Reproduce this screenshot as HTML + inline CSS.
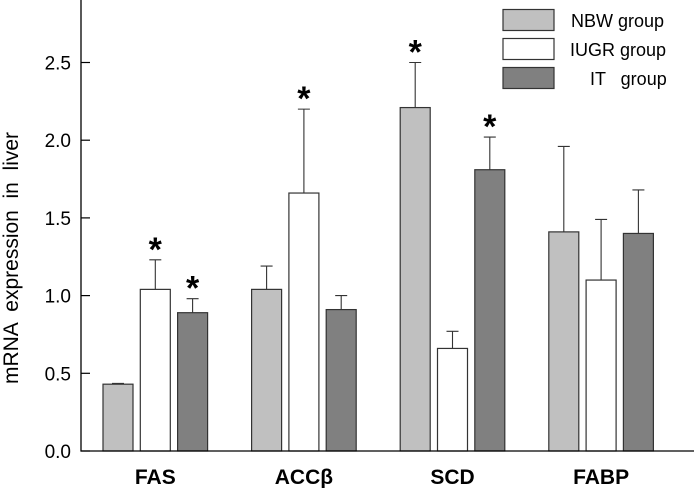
<!DOCTYPE html>
<html><head><meta charset="utf-8"><style>
body{margin:0;background:#fff}
svg{display:block;font-family:"Liberation Sans",Arial,sans-serif}
</style></head><body>
<svg id="chart" width="694" height="488" viewBox="0 0 694 488" xmlns="http://www.w3.org/2000/svg">
<g id="plot"></g>
<g>
 <rect x="503" y="9.5" width="51" height="21" fill="#c0c0c0" stroke="#333" stroke-width="1.2"/>
 <text x="571" y="27" font-size="18">NBW group</text>
 <rect x="503" y="38.5" width="51" height="21" fill="#fff" stroke="#333" stroke-width="1.2"/>
 <text x="570" y="56" font-size="18">IUGR group</text>
 <rect x="503" y="67.5" width="51" height="21" fill="#808080" stroke="#333" stroke-width="1.2"/>
 <text x="590" y="85" font-size="18" xml:space="preserve">IT   group</text>
</g>
<text transform="translate(18,258) rotate(-90)" text-anchor="middle" font-size="21" xml:space="preserve">mRNA  expression  in  liver</text>
</svg>
<script>
const categories = ["FAS", "ACCβ", "SCD", "FABP"];
const seriesNames = ["NBW group", "IUGR group", "IT group"];
const nbwValues = [0.43, 1.04, 2.21, 1.41];
const iugrValues = [1.04, 1.66, 0.66, 1.10];
const itValues = [0.89, 0.91, 1.81, 1.40];
const nbwErrors = [0.005, 0.15, 0.29, 0.55];
const iugrErrors = [0.19, 0.54, 0.11, 0.39];
const itErrors = [0.09, 0.09, 0.21, 0.28];
const nbwSig = [false, false, true, false];
const iugrSig = [true, true, false, false];
const itSig = [true, false, true, false];
const yTicks = [0.0, 0.5, 1.0, 1.5, 2.0, 2.5];

const NS = "http://www.w3.org/2000/svg";
const plot = document.getElementById("plot");
const x0 = 81, y0 = 451, pxPerUnit = 155.4;
const yScale = v => y0 - v * pxPerUnit;
const groupStart = i => 103 + i * 148.6;
const barW = 30, barStep = 37.3;
const fills = ["#c0c0c0", "#ffffff", "#808080"];
const vals = [nbwValues, iugrValues, itValues];
const errs = [nbwErrors, iugrErrors, itErrors];
const sigs = [nbwSig, iugrSig, itSig];
const keys = ["nbw", "iugr", "it"];
function mk(tag, attrs) { const e = document.createElementNS(NS, tag); for (const k in attrs) e.setAttribute(k, attrs[k]); plot.appendChild(e); return e; }

categories.forEach((c, i) => {
  for (let s = 0; s < 3; s++) {
    const v = vals[s][i], x = groupStart(i) + s * barStep, cx = x + barW / 2;
    const r = mk("rect", { x: x, y: yScale(v), width: barW, height: y0 - yScale(v), fill: fills[s], stroke: "#333", "stroke-width": 1.2 });
    
    
    const ye = yScale(v + errs[s][i]);
    const l = mk("path", { d: `M${cx},${yScale(v)}V${ye}M${cx - 6},${ye}H${cx + 6}`, stroke: "#333", "stroke-width": 1.1, fill: "none" });
    
    
    if (sigs[s][i]) {
      const t = mk("text", { x: cx, y: ye + 1, "text-anchor": "middle", "font-size": 34, "font-weight": "bold" });
      t.textContent = "*";
      
      
    }
  }
  const lbl = mk("text", { x: groupStart(i) + barStep + barW / 2, y: 484, "text-anchor": "middle", "font-size": 21, "font-weight": "bold" });
  lbl.textContent = c;
  
  
});

const ax = mk("path", { d: `M${x0},0V${y0}H694`, stroke: "#000", "stroke-width": 1.3, fill: "none" });


yTicks.forEach(t => {
  const y = yScale(t);
  const tk = mk("line", { x1: x0, x2: x0 + 9, y1: y, y2: y, stroke: "#000", "stroke-width": 1.2 });
  
  
  const tl = mk("text", { x: 71, y: y + 7, "text-anchor": "end", "font-size": 19 });
  tl.textContent = t.toFixed(1);
  
  
});
</script>
</body></html>
